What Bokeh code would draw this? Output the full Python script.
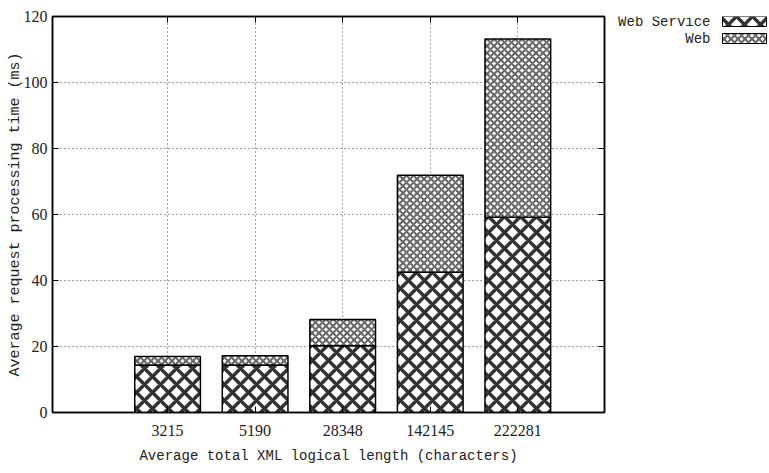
from bokeh.plotting import figure
from bokeh.layouts import row
from bokeh.models import Range1d, FixedTicker, LinearAxis
from bokeh.core.properties import value
from bokeh.embed import file_html
from bokeh.resources import INLINE

# ---- data ----
categories = ["3215", "5190", "28348", "142145", "222281"]
web_service = [14.4, 14.4, 20.2, 42.5, 59.2]
web = [2.6, 2.8, 8.0, 29.4, 54.0]
series_names = ["Web Service", "Web"]
y_ticks = [0, 20, 40, 60, 80, 100, 120]

xs = list(range(len(categories)))
tops = [a + b for a, b in zip(web_service, web)]

MONO = "Liberation Mono"
SERIF = "Liberation Serif"

p = figure(width=608, height=470, output_backend="svg", toolbar_location=None,
           x_range=Range1d(-1.314, 4.99), y_range=Range1d(0, 120),
           min_border_left=52, min_border_right=4, min_border_top=16, min_border_bottom=58)

ws_style = dict(fill_color="white", line_color="black", line_width=1.5,
                hatch_pattern="diagonal_cross", hatch_scale=16, hatch_weight=3.5,
                hatch_color="#333333")
web_style = dict(fill_color="white", line_color="black", line_width=1.5,
                 hatch_pattern="diagonal_cross", hatch_scale=7, hatch_weight=2,
                 hatch_color="#666666")

p.vbar(x=xs, bottom=0, top=web_service, width=0.75, **ws_style)
p.vbar(x=xs, bottom=web_service, top=tops, width=0.75, **web_style)

# axes
p.xaxis.ticker = FixedTicker(ticks=xs)
p.xaxis.major_label_overrides = {i: c for i, c in zip(xs, categories)}
p.yaxis.ticker = FixedTicker(ticks=y_ticks)
for ax in (p.xaxis[0], p.yaxis[0]):
    ax.major_tick_in = 6
    ax.major_tick_out = 0
    ax.minor_tick_in = 0
    ax.minor_tick_out = 0
    ax.axis_line_color = "black"
    ax.axis_line_width = 1.5
    ax.major_tick_line_color = "black"
    ax.major_label_text_font = SERIF
    ax.major_label_text_font_size = "16px"
    ax.major_label_text_color = "#222222"
    ax.axis_label_text_font = MONO
    ax.axis_label_text_font_size = "14px"
    ax.axis_label_text_font_style = "normal"
    ax.axis_label_text_color = "#222222"
p.yaxis.axis_label_text_font_size = "15px"
p.xaxis.axis_label = "Average total XML logical length (characters)"
p.yaxis.axis_label = "Average request processing time (ms)"
p.xaxis.major_label_standoff = 12
p.xaxis.axis_label_standoff = 9
p.yaxis.major_label_standoff = 5
p.yaxis.axis_label_standoff = -3

# mirrored ticks (no labels)
top_ax = LinearAxis(ticker=FixedTicker(ticks=xs),
                    major_label_overrides={i: "" for i in xs},
                    major_tick_in=6, major_tick_out=0, minor_tick_in=0, minor_tick_out=0,
                    axis_line_color="black", axis_line_width=1.5, major_label_standoff=0)
right_ax = LinearAxis(ticker=FixedTicker(ticks=y_ticks),
                      major_label_overrides={t: "" for t in y_ticks},
                      major_tick_in=6, major_tick_out=0, minor_tick_in=0, minor_tick_out=0,
                      axis_line_color="black", axis_line_width=1.5, major_label_standoff=0)
p.add_layout(top_ax, "above")
p.add_layout(right_ax, "right")

p.xgrid.ticker = FixedTicker(ticks=xs)
p.ygrid.ticker = FixedTicker(ticks=y_ticks)
p.grid.grid_line_color = "#444444"
p.grid.grid_line_dash = "1 3"
p.grid.grid_line_width = 1
p.outline_line_color = "black"
p.outline_line_width = 1.5

# ---- legend as separate small figure (frame aligned to main frame: page y 16..412) ----
lg = figure(width=160, height=470, output_backend="svg", toolbar_location=None,
            title=None, x_range=Range1d(0, 160), y_range=Range1d(412, 16),
            min_border=0, min_border_left=0, min_border_right=0,
            min_border_top=0, min_border_bottom=0)
lg.axis.visible = False
lg.grid.visible = False
lg.outline_line_color = None
rows_y = [21, 38]
styles = [ws_style, web_style]
for name, yy, st in zip(series_names, rows_y, styles):
    lg.quad(left=[114], right=[158], top=[yy - 5], bottom=[yy + 5], **{**st, "line_width": 1})
lg.text(x=[102, 102], y=rows_y, text=series_names, text_align="right",
        text_baseline="middle", text_font=value(MONO), text_font_size="14px",
        text_color="#222222")

layout = row(p, lg)
open("out.html", "w").write(file_html(layout, INLINE))
